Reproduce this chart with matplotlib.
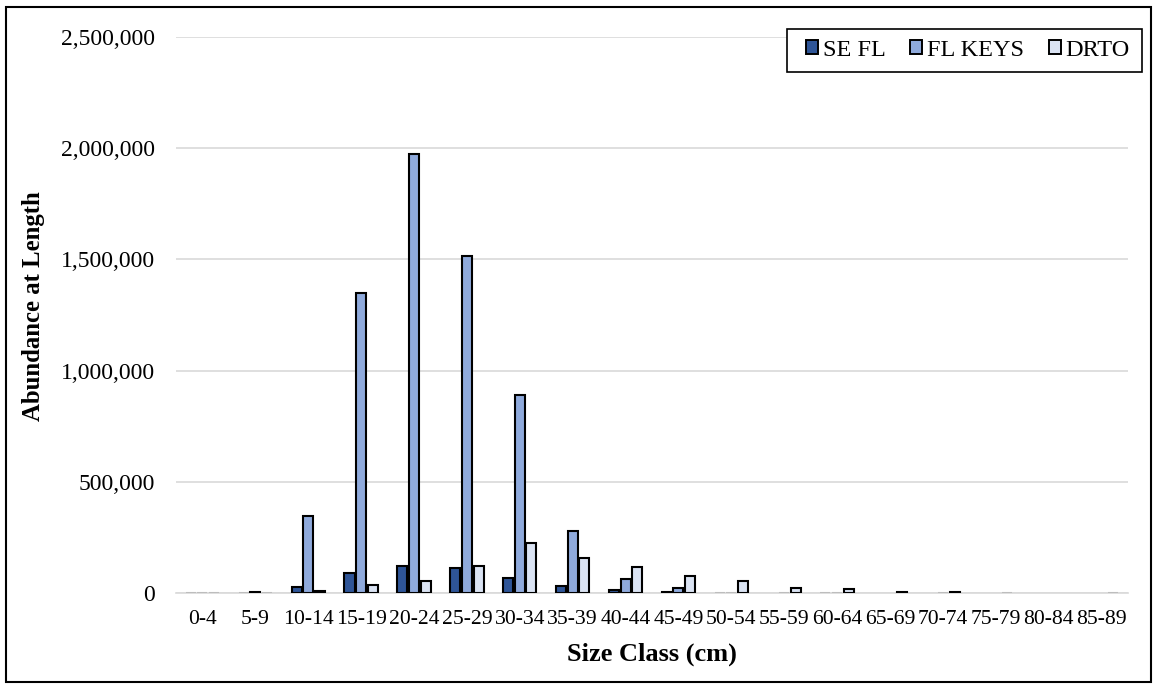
import numpy as np
import matplotlib.pyplot as plt
from matplotlib.patches import Rectangle
from matplotlib.ticker import FuncFormatter

# Size classes and abundance by region
# nan = blank cell (nothing drawn), 0 = flat zero bar
nan = np.nan
size_classes = ["0-4", "5-9", "10-14", "15-19", "20-24", "25-29", "30-34", "35-39",
                "40-44", "45-49", "50-54", "55-59", "60-64", "65-69", "70-74",
                "75-79", "80-84", "85-89"]
se_fl = [0, 0, 27000, 88000, 120000, 111000, 66000, 30000, 13000, 4000,
         0, nan, 0, nan, nan, nan, nan, nan]
fl_keys = [0, 5000, 345000, 1350000, 1975000, 1515000, 890000, 277000, 61000, 24000,
           0, 0, 0, nan, 0, nan, nan, nan]
drto = [0, 0, 8000, 36000, 54000, 122000, 224000, 156000, 115000, 78000,
        55000, 24000, 20000, 3000, 6000, 0, nan, 0]

plt.rcParams["font.family"] = ["Liberation Serif", "DejaVu Serif"]

W, H = 1153, 685
fig = plt.figure(figsize=(W / 100, H / 100), dpi=100)
ax = fig.add_axes([176 / W, 1 - 593 / H, 952 / W, 556 / H])

x = np.arange(len(size_classes))
w = 0.19
step = 0.22
series = [("SE FL", se_fl, "#2F5597"), ("FL KEYS", fl_keys, "#8FAADC"), ("DRTO", drto, "#DAE3F3")]
for i, (name, vals, color) in enumerate(series):
    vals = np.array(vals, dtype=float)
    edges = ["black" if v > 0 else "#BDBDBD" for v in np.nan_to_num(vals)]
    ax.bar(x + (i - 1) * step, vals, w, color=color, edgecolor=edges, linewidth=1.5,
           label=name, zorder=3)

ax.set_xlim(-0.5, len(size_classes) - 0.5)
ax.set_ylim(0, 2500000)
ax.set_yticks(np.arange(0, 2500001, 500000))
ax.yaxis.set_major_formatter(FuncFormatter(lambda v, p: f"{int(v):,}"))
ax.set_xticks(x)
ax.set_xticklabels(size_classes)
ax.tick_params(axis="x", length=0, labelsize=15.6, pad=12)
ax.tick_params(axis="y", length=0, labelsize=17, pad=15)
ax.grid(axis="y", color="#D9D9D9", linewidth=1.2, zorder=0)
for s in ["top", "right", "left"]:
    ax.spines[s].set_visible(False)
ax.spines["bottom"].set_color("#D9D9D9")
ax.spines["bottom"].set_linewidth(1.2)
ax.spines["bottom"].set_zorder(2)

ax.set_xlabel("Size Class (cm)", fontsize=19, fontweight="bold")
ax.set_ylabel("Abundance at Length", fontsize=17.8, fontweight="bold")
ax.xaxis.set_label_coords(0.5, -0.09)
ax.yaxis.set_label_coords(-0.1376, 0.516)

# Legend box drawn by hand so its padding matches, entries laid on top
fig.patches.append(Rectangle((787 / W, 1 - 72 / H), 355 / W, 43 / H, transform=fig.transFigure,
                             facecolor="white", edgecolor="black", linewidth=1.2, zorder=4))
handles, labels = ax.get_legend_handles_labels()
leg = fig.legend(handles, labels, loc="center", bbox_to_anchor=(968 / W, 1 - 50.5 / H),
                 ncol=3, fontsize=17.5, frameon=False, handlelength=0.5, handleheight=0.5,
                 handletextpad=0.2, columnspacing=1.0, borderpad=0.0)
leg.set_zorder(5)
for hnd in leg.legend_handles:
    hnd.set_edgecolor("black")
    hnd.set_linewidth(1.4)

# Border around the whole chart
fig.patches.append(Rectangle((6 / W, 1 - 682 / H), 1145 / W, 675 / H, transform=fig.transFigure,
                             fill=False, edgecolor="black", linewidth=1.5, zorder=6))

fig.savefig("out.png", dpi=100)
